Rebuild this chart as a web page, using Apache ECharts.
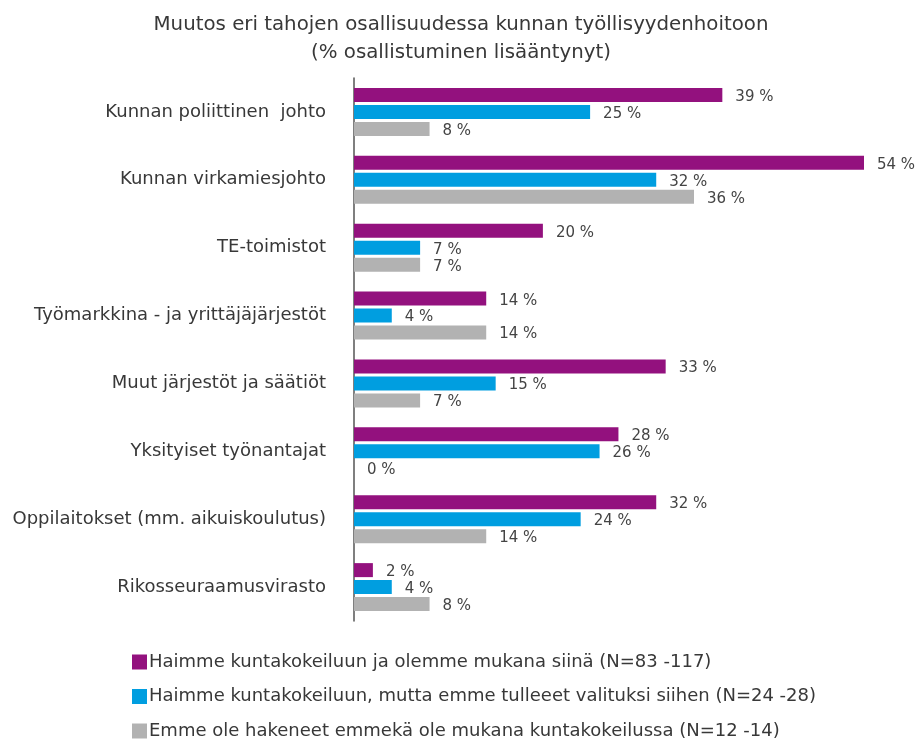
<!DOCTYPE html>
<html>
<head>
<meta charset="utf-8">
<script src="https://cdn.jsdelivr.net/npm/echarts@6/dist/echarts.min.js"></script>
<style>
  html, body { margin: 0; padding: 0; background: #fff; }
  #chart { width: 922px; height: 744px; }
</style>
</head>
<body>
<div id="chart"></div>
<script>
const categories = [
  'Kunnan poliittinen  johto',
  'Kunnan virkamiesjohto',
  'TE-toimistot',
  'Työmarkkina - ja yrittäjäjärjestöt',
  'Muut järjestöt ja säätiöt',
  'Yksityiset työnantajat',
  'Oppilaitokset (mm. aikuiskoulutus)',
  'Rikosseuraamusvirasto'
]
const seriesNames = [
  'Haimme kuntakokeiluun ja olemme mukana siinä (N=83 -117)',
  'Haimme kuntakokeiluun, mutta emme tulleeet valituksi siihen (N=24 -28)',
  'Emme ole hakeneet emmekä ole mukana kuntakokeilussa (N=12 -14)'
]
const mukana = [39, 54, 20, 14, 33, 28, 32, 2]
const eiValittu = [25, 32, 7, 4, 15, 26, 24, 4]
const eiHakenut = [8, 36, 7, 14, 7, 0, 14, 8]

const colors = ['#93117e', '#009ee0', '#b2b2b2']
const font = 'DejaVu Sans, Liberation Sans, sans-serif'

const myChart = echarts.init(document.getElementById('chart'))

function makeSeries(name, data, color) {
  return {
    name: name,
    type: 'bar',
    data: data,
    barWidth: 14,
    barGap: '21%',
    itemStyle: { color: color },
    label: {
      show: true,
      position: 'right',
      distance: 13,
      offset: [0, 2],
      formatter: '{c} %',
      color: '#444',
      fontSize: 15,
      fontFamily: font
    },
    silent: true
  }
}

let option = {
  animation: false,
  title: {
    text: 'Muutos eri tahojen osallisuudessa kunnan työllisyydenhoitoon\n(% osallistuminen lisääntynyt)',
    left: 'center',
    top: 6,
    textStyle: {
      color: '#383838',
      fontSize: 19.8,
      fontWeight: 'normal',
      fontFamily: font,
      lineHeight: 28
    }
  },
  legend: {
    orient: 'vertical',
    left: 132,
    top: 653,
    padding: 0,
    height: 91,
    itemWidth: 15,
    itemHeight: 15,
    itemGap: 16.5,
    icon: 'rect',
    textStyle: {
      color: '#383838',
      fontSize: 18,
      fontFamily: font,
      padding: [0, 0, 0, -3]
    },
    data: seriesNames
  },
  grid: {
    left: 354,
    right: 58,
    top: 78,
    bottom: 123
  },
  xAxis: {
    type: 'value',
    min: 0,
    max: 54,
    show: false
  },
  yAxis: {
    type: 'category',
    inverse: true,
    data: categories,
    axisLine: { show: true, lineStyle: { color: '#555', width: 1.5 } },
    axisTick: { show: false },
    axisLabel: {
      color: '#383838',
      fontSize: 18,
      fontFamily: font,
      margin: 28
    }
  },
  series: [
    makeSeries(seriesNames[0], mukana, colors[0]),
    makeSeries(seriesNames[1], eiValittu, colors[1]),
    makeSeries(seriesNames[2], eiHakenut, colors[2])
  ]
}
myChart.setOption(option)
</script>
</body>
</html>
